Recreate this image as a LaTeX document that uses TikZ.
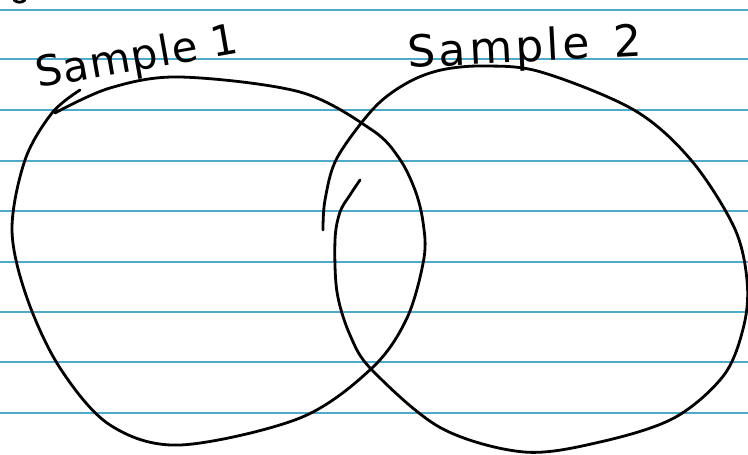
\documentclass[tikz,border=0pt]{standalone}
\usepackage{fontspec}
\setmainfont{DejaVu Sans}
\definecolor{rule}{RGB}{78,170,200}
\begin{document}
\begin{tikzpicture}[x=1pt,y=-1pt,
  ruleline/.style={draw=rule,line width=1.6pt},
  ink/.style={draw=black,line width=2.8pt,line cap=round,line join=round},
  hand/.style={font=\fontsize{42}{42}\selectfont\addfontfeatures{LetterSpace=3},inner sep=0pt},
  handwide/.style={font=\fontsize{44}{44}\selectfont\addfontfeatures{LetterSpace=8},inner sep=0pt}]
\fill[white] (0,0) rectangle (748,455);
\useasboundingbox (0,0) rectangle (748,455);
\foreach \yy in {10,59,110,161,211,262,312,362,413}
  \draw[ruleline] (0,\yy) -- (748,\yy);
% cut-off mark at top-left
\draw[ink] (14,0) .. controls (17,3) and (22,3) .. (25,0);
% left ellipse (Sample 1)
\draw[ink] plot[smooth,tension=0.55] coordinates {
 (80,90) (52,113) (25,160) (12,230) (27,298) (60,368) (110,425) (180,445)
 (300,418) (372,368) (407,318) (424,258) (423,222) (415,190) (399,158)
 (372,130) (300,92) (180,77) (110,88) (55,113)};
% right ellipse (Sample 2)
\draw[ink] plot[smooth,tension=0.55] coordinates {
 (323,230) (325,200) (337,158) (374,108) (407,83) (441,70) (484,66) (541,72)
 (634,110) (691,160) (734,227) (747,280) (744,325) (724,375) (674,418)
 (600,442) (524,452) (441,428) (372,370) (350,335) (337,292) (335,240)
 (340,212) (350,195) (360,180)};
% labels
\node[hand,anchor=base west,rotate=10] (s1) at (38,88) {Sample\hspace{14pt}1};
\node[handwide,anchor=base west,rotate=3] (s2) at (408,68) {Sample\hspace{24pt}2};
\end{tikzpicture}
\end{document}
